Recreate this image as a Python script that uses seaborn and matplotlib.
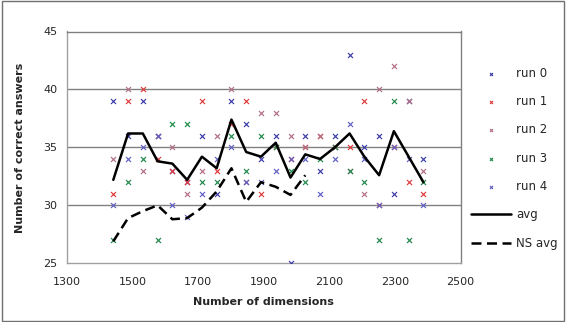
import matplotlib
matplotlib.use("Agg")
import matplotlib.pyplot as plt
from matplotlib.patches import Rectangle
import seaborn as sns

# Werte
dims = [1442, 1487, 1532, 1577, 1622, 1667, 1712, 1757, 1802, 1847, 1892,
        1937, 1982, 2027, 2072, 2117, 2162, 2207, 2252, 2297, 2342, 2387]
run0 = [39, 36, 39, 36, 33, 32, 36, 31, 39, 37, 34, 36, 25, 36, 33, 36, 43, 35, 36, 31, 39, 34]
run1 = [31, 39, 40, 34, 33, 32, 39, 33, 37, 39, 31, 35, 34, 35, 36, 35, 35, 39, 30, 35, 32, 31]
run2 = [34, 40, 33, 36, 35, 31, 33, 36, 40, 32, 38, 38, 36, 35, 36, 35, 33, 31, 40, 42, 39, 33]
run3 = [27, 32, 34, 27, 37, 37, 32, 32, 36, 33, 36, 35, 33, 32, 34, 35, 33, 32, 27, 39, 27, 32]
run4 = [30, 34, 35, 36, 30, 29, 31, 34, 35, 32, 32, 33, 34, 34, 31, 34, 37, 34, 30, 35, 34, 30]
avg = [32.2, 36.2, 36.2, 33.8, 33.6, 32.2, 34.2, 33.2, 37.4, 34.6, 34.2,
       35.4, 32.4, 34.4, 34.0, 35.0, 36.2, 34.2, 32.6, 36.4, 34.2, 32.0]
ns_dims = dims[:14]
ns_avg = [26.9, 28.9, 29.5, 30.0, 28.8, 28.9, 29.8, 31.2, 33.2, 30.3, 32.0, 31.6, 30.9, 32.6]

runs = [run0, run1, run2, run3, run4]
run_labels = ["run 0", "run 1", "run 2", "run 3", "run 4"]
run_colors = ["#3c3ca8", "#e03c3c", "#b46e84", "#1e8a4a", "#6060c4"]

sns.set_style("white")
plt.rcParams["font.family"] = ["DejaVu Sans"]

fig = plt.figure(figsize=(5.66, 3.22), dpi=100)
ax = fig.add_axes([66.7 / 566, 1 - 263.3 / 322, (460.5 - 66.7) / 566, (263.3 - 31.5) / 322])

# Rahmen um das ganze Diagramm
fig.patches.append(Rectangle((0.004, 0.004), 0.992, 0.992, transform=fig.transFigure,
                             fill=False, edgecolor="#707070", linewidth=1.0))

for y in [30, 35, 40]:
    ax.axhline(y, color="#808080", linewidth=1.0, zorder=0)

for vals, lab, col in zip(runs, run_labels, run_colors):
    sns.scatterplot(x=dims, y=vals, marker="x", color=col, s=13, linewidth=0.85,
                    label=lab, ax=ax, zorder=3)

sns.lineplot(x=dims, y=avg, color="black", linewidth=1.8, label="avg", sort=False, ax=ax, zorder=4)
sns.lineplot(x=ns_dims, y=ns_avg, color="black", linewidth=1.8, linestyle=(0, (4, 2.2)),
             label="NS avg", sort=False, ax=ax, zorder=4)

ax.set_xlim(1300, 2500)
ax.set_ylim(25, 45)
ax.set_xticks(range(1300, 2501, 200))
ax.set_yticks(range(25, 46, 5))
ax.tick_params(axis="both", labelsize=8, length=3, width=0.8, color="#909090", direction="out")
ax.tick_params(axis="x", pad=7)

for side in ["top", "right"]:
    ax.spines[side].set_color("#808080")
    ax.spines[side].set_linewidth(1.0)
for side in ["left", "bottom"]:
    ax.spines[side].set_color("#a0a0a0")
    ax.spines[side].set_linewidth(1.0)

ax.set_xlabel("Number of dimensions", fontsize=8, fontweight="bold", labelpad=7)
ax.set_ylabel("Number of correct answers", fontsize=8, fontweight="bold", labelpad=13)

ax.legend(loc="upper left", bbox_to_anchor=(466 / 566, 1 - 62 / 322), bbox_transform=fig.transFigure,
          frameon=False, fontsize=8.5, labelspacing=1.3, handlelength=3.4, handletextpad=0.45,
          borderaxespad=0, markerscale=0.6)

plt.savefig("out.png", dpi=100)
